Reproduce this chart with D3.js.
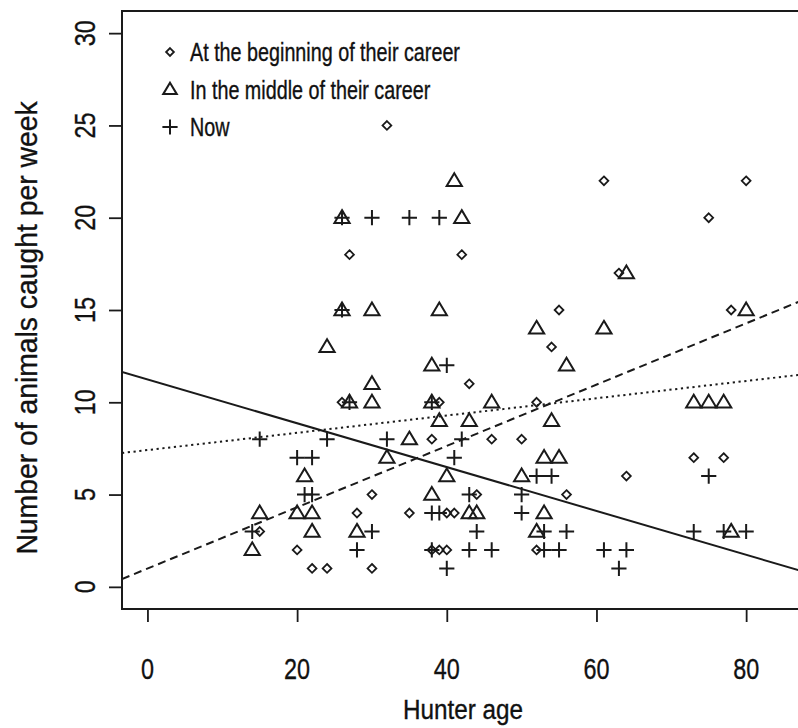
<!DOCTYPE html>
<html>
<head>
<meta charset="utf-8">
<script src="https://cdn.jsdelivr.net/npm/d3@7"></script>
<style>
  body { margin: 0; background: #fff; }
  svg { display: block; }
  text { font-family: "Liberation Sans", Arial, sans-serif; fill: #111; stroke: #111; stroke-width: 0.35; }
</style>
</head>
<body>
<svg width="798" height="728"></svg>
<script>

// hunters: age vs animals caught per week
var beginAge   = [32, 27, 42, 61, 80, 75, 63, 55, 78, 54, 43, 26, 39, 52, 38, 46, 50, 73, 77, 64, 30, 44, 56, 28, 35, 40, 41, 15, 20, 38, 39, 40, 52, 22, 24, 30];
var beginCount = [25, 18, 18, 22, 22, 20, 17, 15, 15, 13, 11, 10, 10, 10,  8,  8,  8,  7,  7,  6,  5,  5,  5,  4,  4,  4,  4,  3,  2,  2,  2,  2,  2,  1,  1,  1];

var middleAge   = [41, 26, 42, 64, 26, 30, 39, 80, 52, 61, 24, 38, 56, 30, 27, 30, 38, 46, 73, 75, 77, 39, 43, 54, 35, 32, 53, 55, 21, 40, 50, 38, 15, 20, 22, 43, 44, 53, 22, 28, 52, 78, 14];
var middleCount = [22, 20, 20, 17, 15, 15, 15, 15, 14, 14, 13, 12, 12, 11, 10, 10, 10, 10, 10, 10, 10,  9,  9,  9,  8,  7,  7,  7,  6,  6,  6,  5,  4,  4,  4,  4,  4,  4,  3,  3,  3,  3,  2];

var nowAge   = [26, 30, 35, 39, 26, 40, 27, 38, 15, 24, 32, 42, 20, 22, 41, 52, 54, 75, 21, 22, 43, 50, 38, 39, 50, 14, 30, 44, 53, 56, 73, 77, 80, 28, 38, 43, 46, 53, 55, 61, 64, 40, 63];
var nowCount = [20, 20, 20, 20, 15, 12, 10, 10,  8,  8,  8,  8,  7,  7,  7,  6,  6,  6,  5,  5,  5,  5,  4,  4,  4,  3,  3,  3,  3,  3,  3,  3,  3,  2,  2,  2,  2,  2,  2,  2,  2,  1,  1];

// fitted lines, intercept and slope
var fitNames     = ["now", "beginning", "middle"];
var fitIntercept = [11.24, 7.41, 0.99];
var fitSlope     = [-0.1188, 0.0468, 0.1661];
var fitDash      = ["none", "2.2,3.6", "8,5"];

var legendLabels = ["At the beginning of their career", "In the middle of their career", "Now"];
var xTicks = [0, 20, 40, 60, 80];
var yTicks = [0, 5, 10, 15, 20, 25, 30];

var svg = d3.select("svg");
var plot = {left: 122, top: 11, right: 809, bottom: 609};
var ink = "#1a1a1a";

var x = d3.scaleLinear().domain([-3.4, 88.4]).range([plot.left, plot.right]);
var y = d3.scaleLinear().domain([-1.2, 31.2]).range([plot.bottom, plot.top]);

svg.append("defs").append("clipPath").attr("id", "plotclip")
  .append("rect")
  .attr("x", plot.left).attr("y", plot.top)
  .attr("width", plot.right - plot.left).attr("height", plot.bottom - plot.top);

function diamond(r) { return "M0," + (-r) + "L" + r + ",0L0," + r + "L" + (-r) + ",0Z"; }
function triangle(r) { return "M0," + (-r) + "L" + r + "," + (r * 0.68) + "L" + (-r) + "," + (r * 0.68) + "Z"; }
function plus(r) { return "M" + (-r) + ",0H" + r + "M0," + (-r) + "V" + r; }

// narrow-looking text: scale along the text direction
function label(parent, px, py, str, size, sx, anchor, angle) {
  return parent.append("text")
    .attr("transform", "translate(" + px + "," + py + ") rotate(" + (angle || 0) + ") scale(" + sx + ",1)")
    .attr("text-anchor", anchor || "start")
    .attr("font-size", size)
    .text(str);
}

var shapes = [
  {age: beginAge, count: beginCount, d: diamond(4.4), w: 1.8},
  {age: middleAge, count: middleCount, d: triangle(7.6), w: 2},
  {age: nowAge, count: nowCount, d: plus(7.6), w: 2}
];

// regression lines
var g = svg.append("g").attr("clip-path", "url(#plotclip)");
fitNames.forEach(function(name, i) {
  var x0 = x.domain()[0], x1 = x.domain()[1];
  g.append("line")
    .attr("class", "fit " + name)
    .attr("x1", x(x0)).attr("y1", y(fitIntercept[i] + fitSlope[i] * x0))
    .attr("x2", x(x1)).attr("y2", y(fitIntercept[i] + fitSlope[i] * x1))
    .attr("stroke", ink)
    .attr("stroke-width", 2)
    .attr("stroke-dasharray", fitDash[i]);
});

// points
shapes.forEach(function(s) {
  g.selectAll(null)
    .data(s.age)
    .enter().append("path")
    .attr("d", s.d)
    .attr("transform", function(d, i) { return "translate(" + x(d) + "," + y(s.count[i]) + ")"; })
    .attr("fill", "none")
    .attr("stroke", ink)
    .attr("stroke-width", s.w);
});

// axes: ticks from the library, labels placed by hand
var xAxis = svg.append("g")
  .attr("transform", "translate(0," + plot.bottom + ")")
  .call(d3.axisBottom(x).tickValues(xTicks).tickSize(13).tickSizeOuter(0).tickFormat(""));
var yAxis = svg.append("g")
  .attr("transform", "translate(" + plot.left + ",0)")
  .call(d3.axisLeft(y).tickValues(yTicks).tickSize(13).tickSizeOuter(0).tickFormat(""));

[xAxis, yAxis].forEach(function(a) {
  a.select(".domain").remove();
  a.selectAll(".tick line").attr("stroke", ink).attr("stroke-width", 1.8);
  a.selectAll(".tick text").remove();
});

xTicks.forEach(function(t) {
  label(svg, x(t), 679, d3.format("d")(t), 30, 0.78, "middle");
});
yTicks.forEach(function(t) {
  label(svg, 95, y(t), d3.format("d")(t), 30, 0.78, "middle", -90);
});

// frame
svg.append("rect")
  .attr("x", plot.left).attr("y", plot.top)
  .attr("width", plot.right - plot.left).attr("height", plot.bottom - plot.top)
  .attr("fill", "none").attr("stroke", ink).attr("stroke-width", 2);

// axis titles
label(svg, 463, 719, "Hunter age", 27, 0.9, "middle");
label(svg, 37, 328, "Number of animals caught per week", 29.5, 0.96, "middle", -90);

// legend
var legend = svg.append("g").attr("transform", "translate(170,52)");
legendLabels.forEach(function(txt, i) {
  var row = legend.append("g").attr("transform", "translate(0," + (i * 37.5) + ")");
  row.append("path")
    .attr("d", i == 0 ? diamond(3.9) : i == 1 ? triangle(6.8) : plus(7.6))
    .attr("fill", "none").attr("stroke", ink).attr("stroke-width", shapes[i].w);
  label(row, 20, 9, txt, 25, 0.79, "start");
});

</script>
</body>
</html>
